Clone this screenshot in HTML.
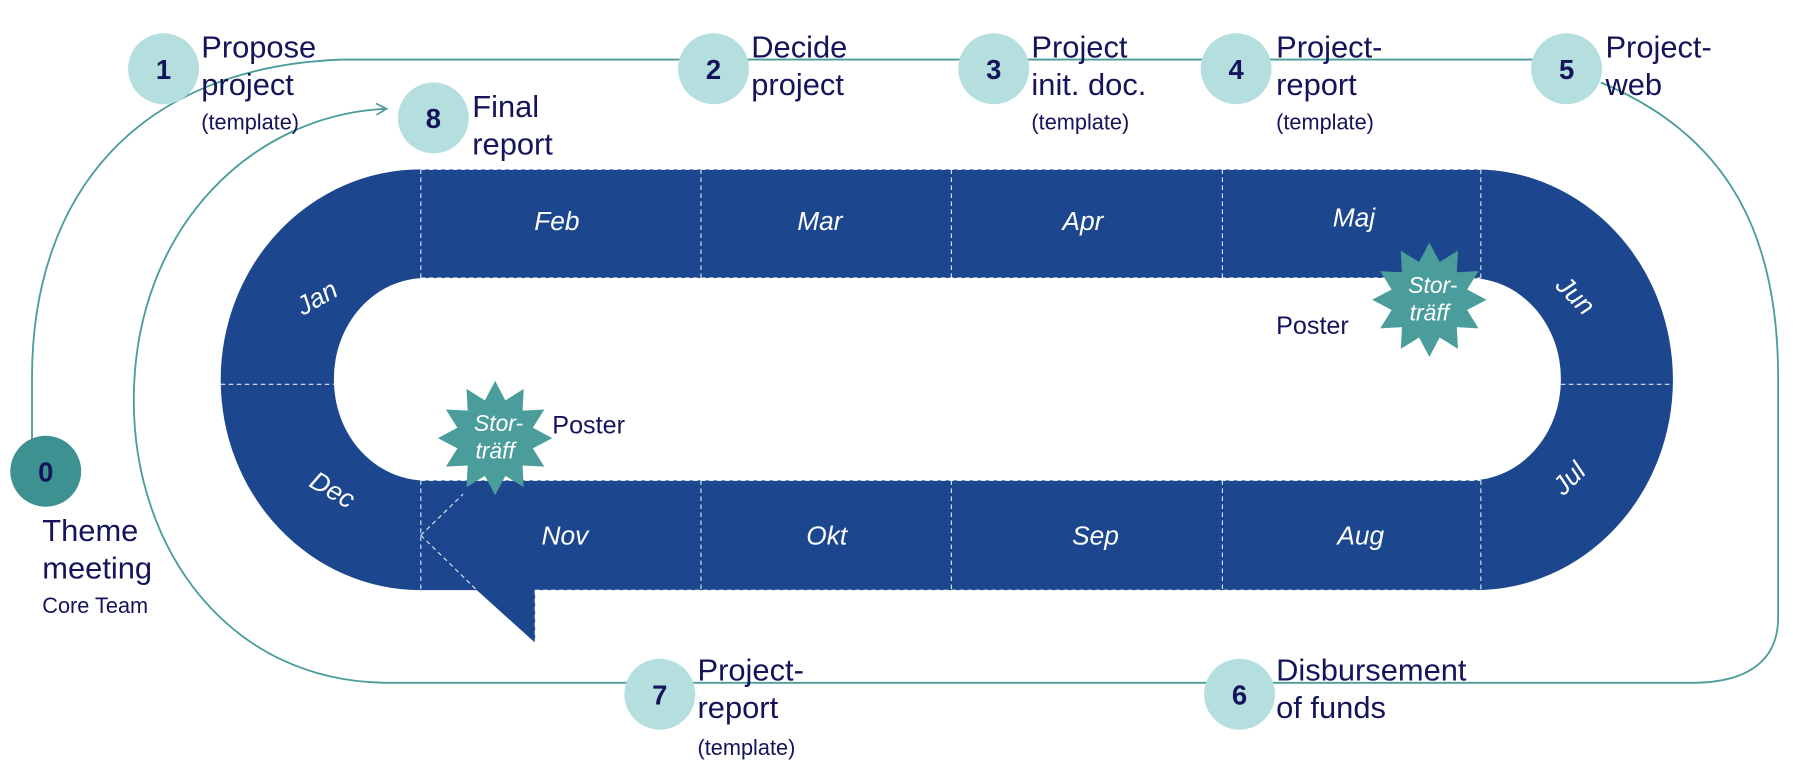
<!DOCTYPE html>
<html><head><meta charset="utf-8"><style>
html,body{margin:0;padding:0;background:#fff;}
svg{display:block;}
.n{font-family:"Liberation Sans",sans-serif;font-weight:bold;font-size:24px;fill:#14145a;text-anchor:middle;}
.l{font-family:"Liberation Sans",sans-serif;font-size:27px;fill:#14145a;}
.s{font-family:"Liberation Sans",sans-serif;font-size:19px;fill:#14145a;}
.m{font-family:"Liberation Sans",sans-serif;font-style:italic;font-size:23px;fill:#fff;text-anchor:middle;}
.st{font-family:"Liberation Sans",sans-serif;font-style:italic;font-size:20px;fill:#fff;text-anchor:middle;}
</style></head><body>
<svg width="1793" height="779" viewBox="0 0 1568 681" xmlns="http://www.w3.org/2000/svg">
<defs><marker id="ar" markerWidth="12" markerHeight="12" refX="10" refY="6" orient="auto" markerUnits="userSpaceOnUse"><path d="M1 1 L10 6 L1 11" fill="none" stroke="#4a9d9a" stroke-width="1.5"/></marker></defs>
<g fill="none" stroke="#4a9d9a" stroke-width="1.6">
<path d="M28 390 V330 C28 170 120 58 300 52 H1340"/>
<path d="M1400 72 C1515 120 1555 210 1555 330 V540 C1555 580 1525 597 1480 597 H1320"/>
<path d="M1320 597 H340 C200 597 117 480 117 350 C117 200 220 100 338 95" marker-end="url(#ar)"/>
</g>
<path fill="#1c478e" fill-rule="evenodd" d="M368 148 H1290 A173 184 0 0 1 1463 332 A173 184 0 0 1 1290 516 H468 V562 L417 516 H368 A175 184 0 0 1 193 332 A175 184 0 0 1 368 148 Z M372 243 A80 88 0 0 0 292 331 A80 88 0 0 0 372 420 H1285 A80 88 0 0 0 1365 332 A80 88 0 0 0 1285 243 Z"/>
<g stroke="#fff" stroke-width="1" stroke-dasharray="4 3" fill="none" opacity="0.85">
<path d="M368 148 H1295 M368 243 H1295 M368 420 H1295 M468 516 H1295"/>
<path d="M368 148 V243 M613 148 V243 M832 148 V243 M1069 148 V243 M1295 148 V243"/>
<path d="M368 420 V516 M613 420 V516 M832 420 V516 M1069 420 V516 M1295 420 V516"/>
<path d="M193 336 H292 M1365 336 H1463"/>
<path d="M368 468 L405 432 M368 468 L417 516 M468 516 V562"/>
</g>
<text class="m" x="487" y="201">Feb</text>
<text class="m" x="717" y="201">Mar</text>
<text class="m" x="947" y="201">Apr</text>
<text class="m" x="1184" y="198">Maj</text>
<text class="m" x="1190" y="476">Aug</text>
<text class="m" x="958" y="476">Sep</text>
<text class="m" x="723" y="476">Okt</text>
<text class="m" x="494" y="476">Nov</text>
<text class="m" transform="translate(1378,258) rotate(45)" y="8">Jun</text>
<text class="m" transform="translate(1372,418) rotate(-45)" y="8">Jul</text>
<text class="m" transform="translate(291,428) rotate(30)" y="8">Dec</text>
<text class="m" transform="translate(277,260) rotate(-30)" y="8">Jan</text>
<g fill="#4a9d9a">
<polygon points="0,-50 9,-33 25,-43 24,-24 43,-25 33,-9 50,0 33,9 43,25 24,24 25,43 9,33 0,50 -9,33 -25,43 -24,24 -43,25 -33,9 -50,0 -33,-9 -43,-25 -24,-24 -25,-43 -9,-33" transform="translate(1250,262)"/>
<polygon points="0,-50 9,-33 25,-43 24,-24 43,-25 33,-9 50,0 33,9 43,25 24,24 25,43 9,33 0,50 -9,33 -25,43 -24,24 -43,25 -33,9 -50,0 -33,-9 -43,-25 -24,-24 -25,-43 -9,-33" transform="translate(433,383)"/>
</g>
<text class="st" x="1253" y="256">Stor-</text><text class="st" x="1250" y="280">träff</text>
<text class="st" x="436" y="377">Stor-</text><text class="st" x="433" y="401">träff</text>
<text class="l" x="1116" y="292" style="font-size:22px">Poster</text>
<text class="l" x="483" y="379" style="font-size:22px">Poster</text>
<g fill="#b5dfdf">
<circle cx="143" cy="60" r="31"/><circle cx="624" cy="60" r="31"/><circle cx="869" cy="60" r="31"/>
<circle cx="1081" cy="60" r="31"/><circle cx="1370" cy="60" r="31"/><circle cx="379" cy="103" r="31"/>
<circle cx="577" cy="607" r="31"/><circle cx="1084" cy="607" r="31"/>
</g>
<circle cx="40" cy="412" r="31" fill="#3d9190"/>
<text class="n" x="40" y="421">0</text>
<text class="n" x="143" y="69">1</text><text class="n" x="624" y="69">2</text><text class="n" x="869" y="69">3</text>
<text class="n" x="1081" y="69">4</text><text class="n" x="1370" y="69">5</text><text class="n" x="1084" y="616">6</text>
<text class="n" x="577" y="616">7</text><text class="n" x="379" y="112">8</text>
<text class="l" x="176" y="50">Propose</text><text class="l" x="176" y="83">project</text><text class="s" x="176" y="113">(template)</text>
<text class="l" x="413" y="102">Final</text><text class="l" x="413" y="135">report</text>
<text class="l" x="657" y="50">Decide</text><text class="l" x="657" y="83">project</text>
<text class="l" x="902" y="50">Project</text><text class="l" x="902" y="83">init. doc.</text><text class="s" x="902" y="113">(template)</text>
<text class="l" x="1116" y="50">Project-</text><text class="l" x="1116" y="83">report</text><text class="s" x="1116" y="113">(template)</text>
<text class="l" x="1404" y="50">Project-</text><text class="l" x="1404" y="83">web</text>
<text class="l" x="37" y="473">Theme</text><text class="l" x="37" y="506">meeting</text><text class="s" x="37" y="536">Core Team</text>
<text class="l" x="610" y="595">Project-</text><text class="l" x="610" y="628">report</text><text class="s" x="610" y="660">(template)</text>
<text class="l" x="1116" y="595">Disbursement</text><text class="l" x="1116" y="628">of funds</text>
</svg>
</body></html>
